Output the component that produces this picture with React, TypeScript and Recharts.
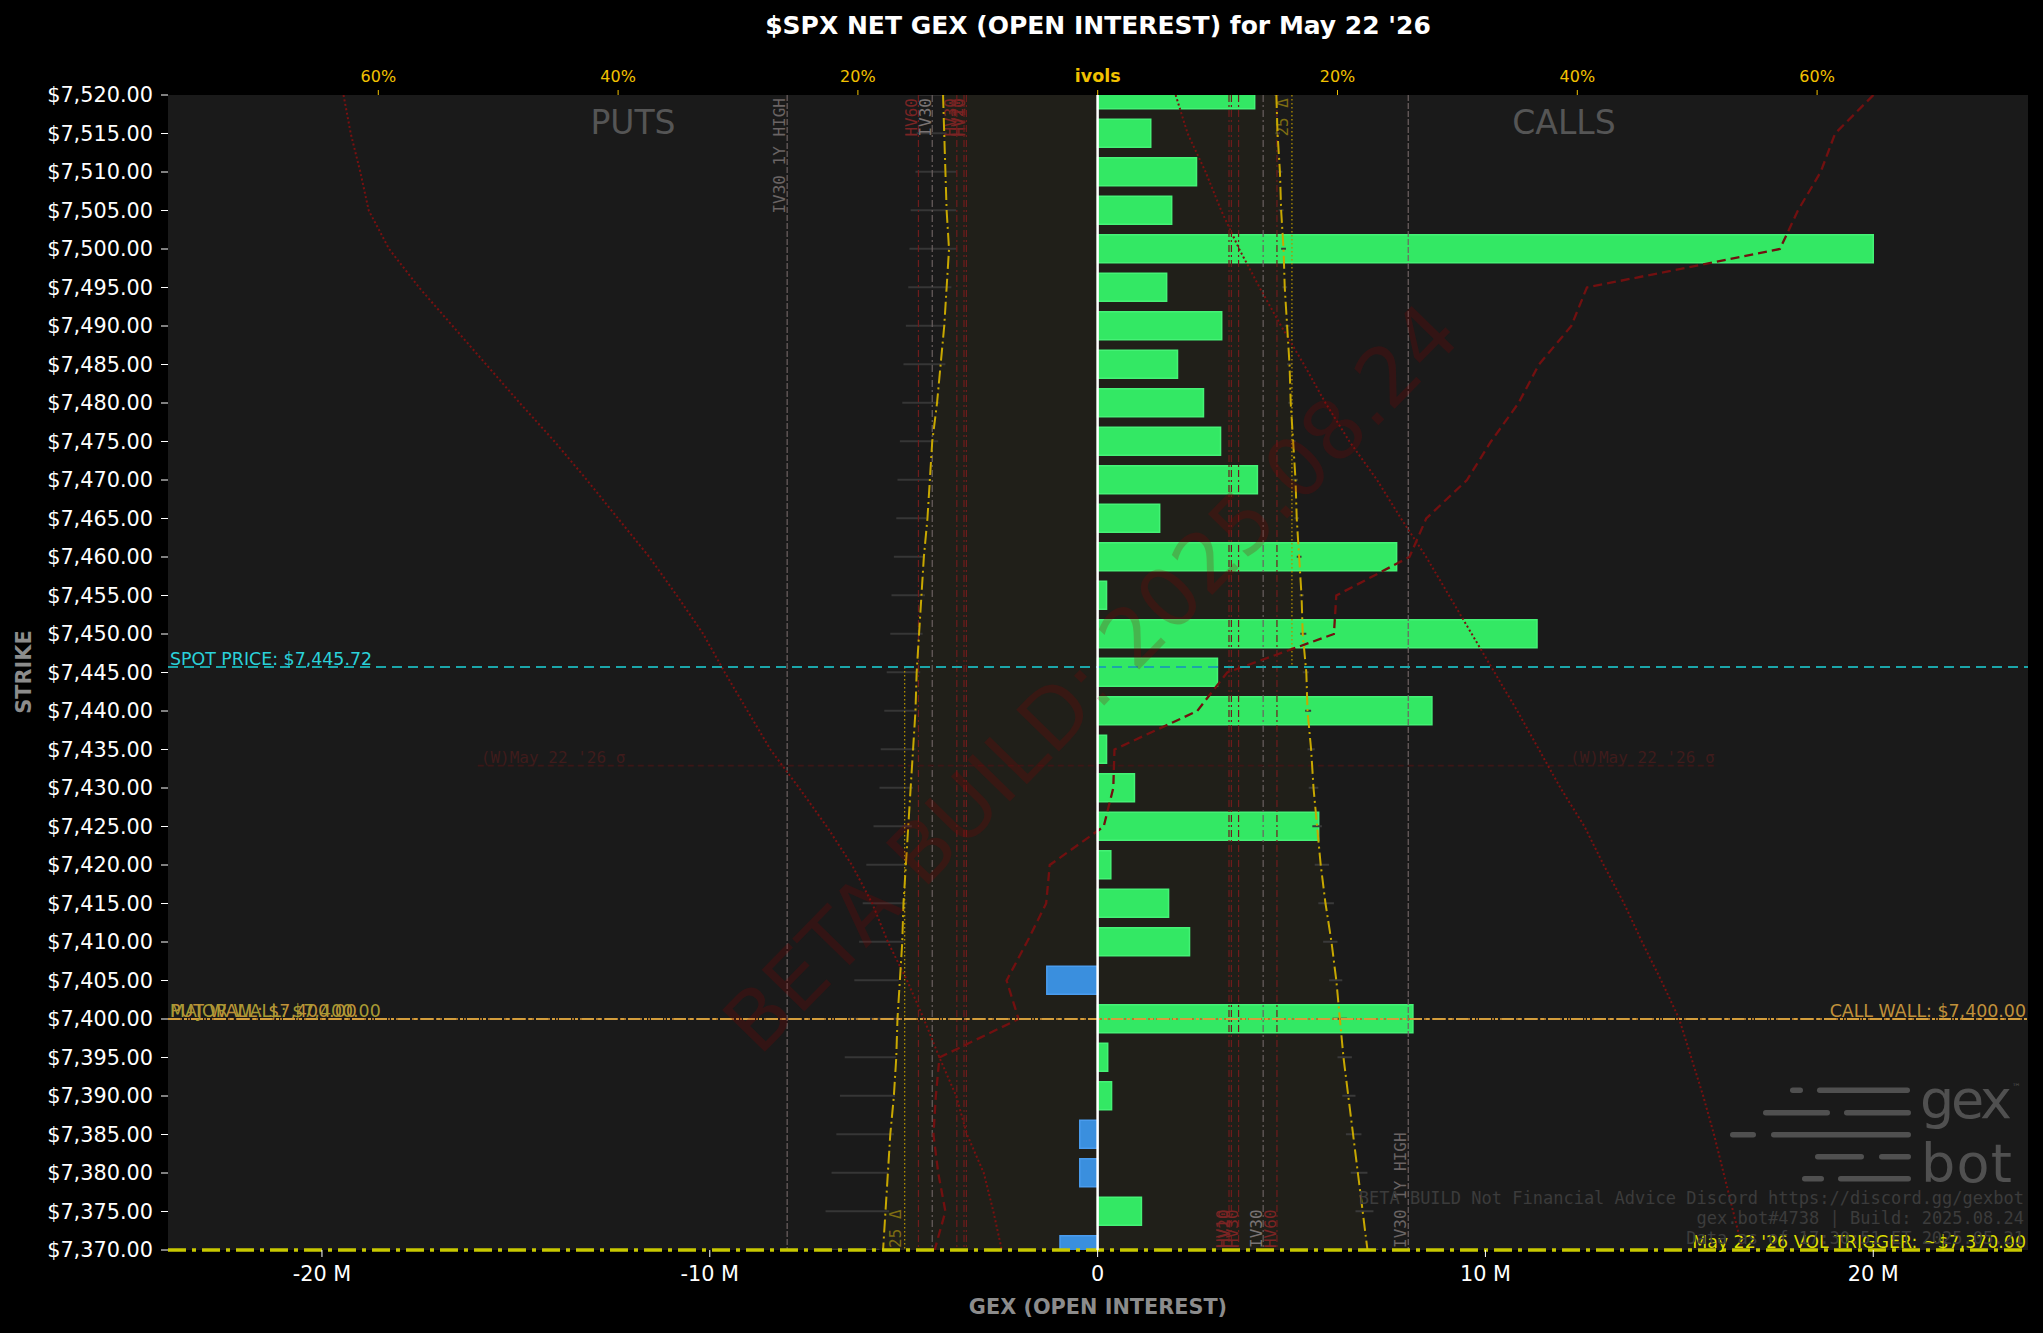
import React from 'react';
import {
  ComposedChart,
  Bar,
  Line,
  Area,
  XAxis,
  YAxis,
  ReferenceLine,
  CartesianGrid,
  Cell,
} from 'recharts';

const W = 2043;
const H = 1333;
const SANS = 'DejaVu Sans';
const MONO = 'DejaVu Sans Mono';

// ---------------- data ----------------
const strikes = [7520, 7515, 7510, 7505, 7500, 7495, 7490, 7485, 7480, 7475, 7470, 7465, 7460, 7455, 7450, 7445, 7440, 7435, 7430, 7425, 7420, 7415, 7410, 7405, 7400, 7395, 7390, 7385, 7380, 7375, 7370];
// net GEX by strike, in millions
const netGexM = [4.05, 1.37, 2.55, 1.91, 20.0, 1.78, 3.2, 2.06, 2.73, 3.17, 4.12, 1.6, 7.71, 0.23, 11.33, 3.09, 8.62, 0.23, 0.95, 5.7, 0.34, 1.83, 2.37, -1.31, 8.13, 0.26, 0.36, -0.46, -0.46, 1.13, -0.97];
// implied vols (%) by strike
const putIv = [12.9, 12.8, 12.7, 12.6, 12.4, 12.6, 12.8, 13.1, 13.4, 13.8, 14.0, 14.2, 14.5, 14.7, 14.9, 15.1, 15.2, 15.4, 15.6, 15.8, 16.0, 16.2, 16.3, 16.5, 16.7, 16.8, 17.0, 17.3, 17.5, 17.7, 17.9];
const callIv = [14.9, 15.0, 15.2, 15.3, 15.5, 15.6, 15.8, 16.0, 16.1, 16.3, 16.5, 16.6, 16.8, 17.0, 17.1, 17.4, 17.5, 17.8, 18.0, 18.3, 18.6, 19.0, 19.5, 19.9, 20.2, 20.5, 20.9, 21.3, 21.7, 22.1, 22.5];
const putBidIv = [12.7, 12.6, 11.8, 11.8, 11.8, 12.2, 12.7, 12.7, 13.2, 13.3, 14.0, 14.3, 14.4, 14.4, 14.6, 14.8, 15.1, 15.2, 15.4, 15.5, 16.0, 15.9, 16.2, 16.6, 16.7, 16.8, 16.9, 17.0, 17.5, 17.4, 18.2];
const putAskIv = [15.0, 15.1, 15.2, 15.6, 15.7, 15.8, 16.0, 16.2, 16.3, 16.5, 16.7, 16.8, 17.0, 17.2, 17.3, 17.6, 17.8, 18.1, 18.2, 18.7, 19.3, 19.6, 19.9, 20.3, 20.7, 21.1, 21.5, 21.8, 22.2, 22.7, 23.2];
const callBidIv = [14.7, 14.8, 15.0, 15.1, 15.3, 15.4, 15.6, 15.8, 15.9, 16.1, 16.3, 16.4, 16.6, 16.8, 16.9, 17.1, 17.3, 17.5, 17.6, 17.9, 18.1, 18.4, 18.8, 19.3, 19.6, 20.0, 20.4, 20.7, 21.1, 21.5, 21.8];
const callAskIv = [15.1, 15.2, 15.4, 15.5, 15.7, 15.8, 16.0, 16.2, 16.3, 16.5, 16.7, 16.8, 17.0, 17.2, 17.4, 17.6, 17.8, 18.1, 18.4, 18.7, 19.3, 19.7, 20.0, 20.4, 20.8, 21.2, 21.5, 22.0, 22.5, 23.0, 23.4];
const putWingIv = [62.9, 62.3, 61.5, 60.8, 59.1, 56.6, 53.8, 51.0, 48.2, 45.3, 42.6, 40.0, 37.4, 35.1, 32.9, 31.1, 29.2, 27.3, 24.9, 22.6, 20.5, 18.8, 17.5, 15.9, 14.5, 13.2, 11.8, 10.9, 9.5, 8.7, 8.0];
const callWingIv = [6.5, 7.5, 9.0, 10.3, 11.8, 13.5, 15.3, 17.2, 19.0, 21.0, 23.3, 25.3, 27.4, 29.3, 31.2, 33.1, 35.0, 36.8, 38.6, 40.6, 42.2, 43.9, 45.4, 47.0, 48.5, 49.5, 50.5, 51.4, 52.2, 53.0, 53.8];
const otmIv = [64.7, 61.5, 60.3, 58.4, 56.9, 40.8, 39.5, 36.8, 35.1, 32.8, 30.8, 27.4, 26.0, 19.9, 19.7, 10.8, 8.3, 1.4, 1.3, 0.5, -4.0, -4.3, -5.9, -7.6, -6.6, -13.2, -13.5, -13.7, -13.3, -12.7, -13.6];

// levels
const spotPrice = 7445.72;
const callWall = 7400;
const putWall = 7400;
const majorWall = 7400;
const volTrigger = 7370;
const sigmaStrike = 7432.9;
const sigmaIv = 51.7;
const put25dIv = 16.1;
const call25dIv = 16.2;
const hvLevels = [
  { name: 'HV10', iv: 10.95 },
  { name: 'HV20', iv: 11.15 },
  { name: 'HV30', iv: 11.75 },
  { name: 'HV60', iv: 14.95 },
];
const iv30 = 13.8;
const iv30High = 25.9;

const gexTicks = [-20, -10, 0, 10, 20];
const ivTicks = [-60, -40, -20, 0, 20, 40, 60];

const rows = strikes.map((strike, i) => ({
  strike,
  gex: netGexM[i],
  putSide: -putIv[i],
  callSide: callIv[i],
  skewBand: [-putIv[i], callIv[i]],
  putQuote: [-putAskIv[i], -putBidIv[i]],
  callQuote: [callBidIv[i], callAskIv[i]],
  putWing: -putWingIv[i],
  callWing: callWingIv[i],
  otm: otmIv[i],
}));

// ---------------- helpers ----------------
const fmtMoney = (v: number) =>
  '$' + v.toLocaleString('en-US', { minimumFractionDigits: 2, maximumFractionDigits: 2 });
const fmtGex = (v: number) => (v === 0 ? '0' : `${v} M`);

function IvTick(props: any) {
  const { x, y, payload } = props;
  const v = payload?.value;
  const isZero = v === 0;
  return (
    <text
      x={x}
      y={y}
      textAnchor="middle"
      fill="#f2c200"
      fontSize={isZero ? 17.5 : 16}
      fontWeight={isZero ? 700 : 400}
      fontFamily={SANS}
    >
      {isZero ? 'ivols' : `${Math.abs(v)}%`}
    </text>
  );
}

const vLabel = (text: string, color: string, atTop: boolean, gap = 2, size = 16) =>
  function VLabel(props: any) {
    const vb = props.viewBox || {};
    const x = (vb.x ?? 0) - gap;
    const y = atTop ? (vb.y ?? 0) + 3 : (vb.y ?? 0) + (vb.height ?? 0) - 2;
    return (
      <text
        x={x}
        y={y}
        transform={`rotate(-90 ${x} ${y})`}
        textAnchor={atTop ? 'end' : 'start'}
        fill={color}
        fontSize={size}
        fontFamily={MONO}
      >
        {text}
      </text>
    );
  };

const GREEN = '#33e864';
const GREEN_EDGE = '#45f276';
const BLUE = '#3a8fde';
const BLUE_EDGE = '#4a9cee';
const DARKRED = '#7a1010';
const HVRED = '#6e1c1c';
const GOLD = '#c8a800';

export default function App() {
  const hideY = (id: string) => (
    <YAxis
      yAxisId={id}
      type="number"
      dataKey="strike"
      orientation="right"
      width={0}
      domain={[7370, 7520]}
      reversed
      allowDataOverflow
      ticks={strikes}
      hide
    />
  );

  return (
    <div style={{ position: 'relative', width: W, height: H, background: '#000', overflow: 'hidden' }}>
      <style>{`html,body{margin:0;padding:0;background:#000;}`}</style>
      <ComposedChart
        layout="vertical"
        width={W}
        height={H}
        data={rows}
        margin={{ top: 55, right: 15, bottom: 43, left: 0 }}
        style={{ fontFamily: SANS }}
      >
        <CartesianGrid xAxisId="gex" yAxisId="s" fill="#1a1a1a" stroke="none" horizontal={false} vertical={false} />
        <XAxis
          xAxisId="gex"
          type="number"
          orientation="bottom"
          domain={[-23.97, 23.99]}
          allowDataOverflow
          ticks={gexTicks}
          interval={0}
          tickFormatter={fmtGex}
          height={40}
          axisLine={false}
          tickLine={{ stroke: '#ffffff' }}
          tickSize={7}
          tickMargin={9}
          tick={{ fill: '#ffffff', fontSize: 20.8, fontFamily: SANS }}
        />
        <XAxis
          xAxisId="iv"
          type="number"
          orientation="top"
          domain={[-77.54, 77.59]}
          allowDataOverflow
          ticks={ivTicks}
          interval={0}
          height={40}
          axisLine={false}
          tickLine={{ stroke: '#f2c200' }}
          tickSize={5}
          tickMargin={8}
          tick={<IvTick />}
        />
        <YAxis
          yAxisId="s"
          type="number"
          dataKey="strike"
          domain={[7370, 7520]}
          reversed
          allowDataOverflow
          ticks={strikes}
          interval={0}
          width={168}
          axisLine={false}
          tickLine={{ stroke: '#ffffff' }}
          tickSize={7}
          tickMargin={8}
          tickFormatter={fmtMoney}
          tick={{ fill: '#ffffff', fontSize: 20.8, fontFamily: SANS }}
        />
        {hideY('q1')}
        {hideY('q2')}

        <Area
          xAxisId="iv"
          yAxisId="s"
          dataKey="skewBand"
          type="linear"
          stroke="none"
          fill="#ffd700"
          fillOpacity={0.028}
          isAnimationActive={false}
        />

        <Bar xAxisId="gex" yAxisId="s" dataKey="gex" barSize={28} isAnimationActive={false}>
          {rows.map((r, i) => (
            <Cell
              key={i}
              fill={r.gex >= 0 ? GREEN : BLUE}
              stroke={r.gex >= 0 ? GREEN_EDGE : BLUE_EDGE}
              strokeWidth={1.5}
            />
          ))}
        </Bar>

        <Bar xAxisId="iv" yAxisId="q1" dataKey="putQuote" barSize={2} fill="#363636" isAnimationActive={false} />
        <Bar xAxisId="iv" yAxisId="q2" dataKey="callQuote" barSize={2} fill="#3a3a3a" isAnimationActive={false} />

        {/* IV30 1Y high */}
        <ReferenceLine xAxisId="iv" yAxisId="s" x={-iv30High} stroke="#6e6262" strokeWidth={1.2} strokeDasharray="6 2"
          label={vLabel('IV30 1Y HIGH', '#6a6464', true)} />
        <ReferenceLine xAxisId="iv" yAxisId="s" x={iv30High} stroke="#6e6262" strokeWidth={1.2} strokeDasharray="6 2"
          label={vLabel('IV30 1Y HIGH', '#6a6464', false)} />

        {/* HV / IV30 levels */}
        {hvLevels.map((h) => (
          <ReferenceLine key={'l' + h.name} xAxisId="iv" yAxisId="s" x={-h.iv} stroke={HVRED} strokeWidth={1.2}
            strokeDasharray="7 3 2 3" label={vLabel(h.name, '#7a2424', true, 1)} />
        ))}
        {hvLevels.map((h) => (
          <ReferenceLine key={'r' + h.name} xAxisId="iv" yAxisId="s" x={h.iv} stroke={HVRED} strokeWidth={1.2}
            strokeDasharray="7 3 2 3" label={vLabel(h.name, '#7a2424', false, 1)} />
        ))}
        <ReferenceLine xAxisId="iv" yAxisId="s" x={-iv30} stroke="#6a6060" strokeWidth={1.2} strokeDasharray="7 3 2 3"
          label={vLabel('IV30', '#7a7474', true, 1)} />
        <ReferenceLine xAxisId="iv" yAxisId="s" x={iv30} stroke="#6a6060" strokeWidth={1.2} strokeDasharray="7 3 2 3"
          label={vLabel('IV30', '#7a7474', false, 1)} />

        {/* 25 delta markers */}
        <ReferenceLine xAxisId="iv" yAxisId="s"
          segment={[{ x: -put25dIv, y: spotPrice }, { x: -put25dIv, y: 7370 }]}
          stroke="#b09000" strokeWidth={1.3} strokeDasharray="1.5 2.5"
          label={vLabel('25 Δ', '#7d6c12', false, 4)} />
        <ReferenceLine xAxisId="iv" yAxisId="s"
          segment={[{ x: call25dIv, y: 7520 }, { x: call25dIv, y: spotPrice }]}
          stroke="#b09000" strokeWidth={1.3} strokeDasharray="1.5 2.5"
          label={vLabel('25 Δ', '#7d6c12', true, 4)} />

        {/* weekly sigma */}
        <ReferenceLine xAxisId="iv" yAxisId="s"
          segment={[{ x: -sigmaIv, y: sigmaStrike }, { x: sigmaIv, y: sigmaStrike }]}
          stroke="#3c1616" strokeWidth={1.6} strokeDasharray="6 4"
          label={{ value: "(W)May 22 '26 σ", position: 'insideBottomLeft', offset: 3, fill: '#3f1c1c', fontSize: 16, fontFamily: MONO }} />
        <ReferenceLine xAxisId="iv" yAxisId="s"
          segment={[{ x: -sigmaIv, y: sigmaStrike }, { x: sigmaIv, y: sigmaStrike }]}
          stroke="none" strokeOpacity={0}
          label={{ value: "(W)May 22 '26 σ", position: 'insideBottomRight', offset: 3, fill: '#3f1c1c', fontSize: 16, fontFamily: MONO }} />

        {/* ivol curves */}
        <Line xAxisId="iv" yAxisId="s" dataKey="putWing" type="linear" stroke={DARKRED} strokeWidth={2}
          strokeDasharray="2 2.5" dot={false} isAnimationActive={false} />
        <Line xAxisId="iv" yAxisId="s" dataKey="callWing" type="linear" stroke={DARKRED} strokeWidth={2}
          strokeDasharray="2 2.5" dot={false} isAnimationActive={false} />
        <Line xAxisId="iv" yAxisId="s" dataKey="otm" type="linear" stroke="#721010" strokeWidth={2.3}
          strokeDasharray="9 5" dot={false} isAnimationActive={false} />
        <Line xAxisId="iv" yAxisId="s" dataKey="putSide" type="linear" stroke={GOLD} strokeWidth={2}
          strokeDasharray="13 4 2 4" dot={false} isAnimationActive={false} />
        <Line xAxisId="iv" yAxisId="s" dataKey="callSide" type="linear" stroke={GOLD} strokeWidth={2}
          strokeDasharray="13 4 2 4" dot={false} isAnimationActive={false} />

        {/* horizontal levels */}
        <ReferenceLine xAxisId="gex" yAxisId="s" y={spotPrice} stroke="#1ba6aa" strokeWidth={2} strokeDasharray="10 6"
          label={{ value: `SPOT PRICE: ${fmtMoney(spotPrice)}`, position: 'insideBottomLeft', offset: 2, fill: '#2bd2da', fontSize: 17.4, fontFamily: SANS }} />
        <ReferenceLine xAxisId="gex" yAxisId="s" y={putWall} stroke="#b07a2c" strokeWidth={2} strokeDasharray="2 2"
          label={{ value: `PUT WALL: ${fmtMoney(putWall)}`, position: 'insideBottomLeft', offset: 2, fill: '#c09238', fontSize: 17.4, fontFamily: SANS }} />
        <ReferenceLine xAxisId="gex" yAxisId="s" y={majorWall} stroke="none" strokeOpacity={0}
          label={{ value: `MAJOR WALL: ${fmtMoney(majorWall)}`, position: 'insideBottomLeft', offset: 2, fill: '#a89a34', fontSize: 17.4, fontFamily: SANS }} />
        <ReferenceLine xAxisId="gex" yAxisId="s" y={callWall} stroke="#d49e3c" strokeWidth={2} strokeDasharray="12 4 3 4"
          label={{ value: `CALL WALL: ${fmtMoney(callWall)}`, position: 'insideBottomRight', offset: 2, fill: '#c0913a', fontSize: 17.4, fontFamily: SANS }} />
        <ReferenceLine xAxisId="gex" yAxisId="s" y={volTrigger} stroke="#c8c800" strokeWidth={3.5} strokeDasharray="18 6 4 6"
          label={{ value: `May 22 '26 VOL TRIGGER: ~${fmtMoney(volTrigger)}`, position: 'insideBottomRight', offset: 2, fill: '#dcdc00', fontSize: 17.4, fontFamily: SANS }} />

        <ReferenceLine xAxisId="gex" yAxisId="s" x={0} stroke="#ffffff" strokeWidth={2.5} />
      </ComposedChart>

      <svg width={W} height={H} style={{ position: 'absolute', left: 0, top: 0, pointerEvents: 'none' }}>
        <text x={1098} y={34} textAnchor="middle" fill="#ffffff" fontSize={25} fontWeight={700} fontFamily={SANS}>
          $SPX NET GEX (OPEN INTEREST) for May 22 '26
        </text>
        <text x={1098} y={1314} textAnchor="middle" fill="#8c8c8c" fontSize={20.8} fontWeight={700} fontFamily={SANS}>
          GEX (OPEN INTEREST)
        </text>
        <text transform="translate(31 672) rotate(-90)" textAnchor="middle" fill="#8c8c8c" fontSize={20.8} fontWeight={700} fontFamily={SANS}>
          STRIKE
        </text>
        <text x={633} y={134} textAnchor="middle" fill="#555555" fontSize={33} fontFamily={SANS}>PUTS</text>
        <text x={1564} y={134} textAnchor="middle" fill="#555555" fontSize={33} fontFamily={SANS}>CALLS</text>

        <text x={1091} y={678} transform="rotate(-45.6 1091 678)" textAnchor="middle" dominantBaseline="central"
          fontSize={82} fill="#8b0000" fillOpacity={0.22} fontFamily={SANS}>
          BETA BUILD: 2025.08.24
        </text>

        {/* logo */}
        <g fill="#505050">
          <rect x={1790} y={1087.5} width={13} height={5.5} rx={2.7} />
          <rect x={1817} y={1087.5} width={93} height={5.5} rx={2.7} />
          <rect x={1763} y={1110} width={67} height={5.5} rx={2.7} />
          <rect x={1844} y={1110} width={67} height={5.5} rx={2.7} />
          <rect x={1730} y={1132} width={26} height={5.5} rx={2.7} />
          <rect x={1771} y={1132} width={140} height={5.5} rx={2.7} />
          <rect x={1815} y={1154} width={49} height={5.5} rx={2.7} />
          <rect x={1879} y={1154} width={32} height={5.5} rx={2.7} />
          <rect x={1802} y={1176} width={22} height={5.5} rx={2.7} />
          <rect x={1838} y={1176} width={73} height={5.5} rx={2.7} />
          <text x={1920} y={1118} fontSize={54} fontFamily={SANS} textLength={92}>gex</text>
          <text x={1921} y={1182} fontSize={54} fontFamily={SANS} textLength={91}>bot</text>
          <text x={2012} y={1090} fontSize={9} fontFamily={SANS}>™</text>
        </g>

        <g fill="#3c3c3c" fontFamily={MONO} fontSize={17} textAnchor="end">
          <text x={2024} y={1204}>BETA BUILD Not Financial Advice Discord https://discord.gg/gexbot</text>
          <text x={2024} y={1224}>gex.bot#4738 | Build: 2025.08.24</text>
          <text x={2024} y={1244}>Data as of 17:30:51 ET 2025.05.21</text>
        </g>
      </svg>
    </div>
  );
}
